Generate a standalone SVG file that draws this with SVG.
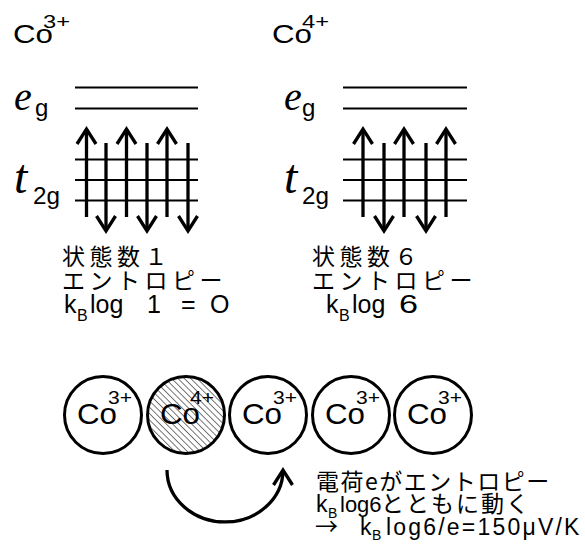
<svg xmlns="http://www.w3.org/2000/svg" width="585" height="544" viewBox="0 0 585 544">
<style>
.sans{font-family:"Liberation Sans",Arial,sans-serif;fill:#000}
.jp{font-family:"Noto Sans CJK JP","Noto Sans CJK SC",sans-serif;fill:#000}
.it{font-family:"Liberation Serif",serif;font-style:italic;fill:#000}
.lvl{stroke:#000;stroke-width:2;fill:none}
.spin{stroke:#000;stroke-width:3.3;fill:none}
.atom{stroke:#000;stroke-width:3}
.up{marker-end:url(#chev)}
</style>
<defs>
<marker id="chev" markerUnits="userSpaceOnUse" viewBox="-20 -20 40 40" markerWidth="40" markerHeight="40" refX="0" refY="0" orient="auto">
<path d="M-15,-9.5 L0,0 L-15,9.5" fill="none" stroke="#000" stroke-width="3.3"/>
</marker>
<pattern id="hatch" width="4.5" height="4.5" patternUnits="userSpaceOnUse" patternTransform="rotate(45)">
<line x1="0" y1="2.25" x2="4.5" y2="2.25" stroke="#555" stroke-width="0.8"/>
</pattern>
</defs>
<rect width="585" height="544" fill="#fff"/>

<g id="co3-diagram">
<text class="sans" font-size="25"><tspan x="13" y="43" textLength="40" lengthAdjust="spacingAndGlyphs">Co</tspan><tspan x="43" y="28" font-size="18" textLength="27" lengthAdjust="spacingAndGlyphs">3+</tspan></text>
<text class="it" x="14" y="110" font-size="40">e<tspan class="sans" x="35" y="116" font-size="24" font-style="normal">g</tspan></text>
<text class="it" x="14" y="193" font-size="48">t<tspan class="sans" x="33" y="204" font-size="23" font-style="normal" textLength="27" lengthAdjust="spacingAndGlyphs">2g</tspan></text>
<g class="lvl">
<line x1="75" y1="87.5" x2="198" y2="87.5"/>
<line x1="75" y1="108.5" x2="198" y2="108.5"/>
<line x1="75" y1="159.5" x2="198" y2="159.5"/>
<line x1="75" y1="180" x2="198" y2="180"/>
<line x1="75" y1="200.5" x2="198" y2="200.5"/>
</g>
<g class="spin">
<line class="up" x1="86.5" y1="217" x2="86.5" y2="129"/>
<line class="up" x1="126.5" y1="217" x2="126.5" y2="129"/>
<line class="up" x1="167" y1="217" x2="167" y2="129"/>
<line class="up" x1="106" y1="143" x2="106" y2="231"/>
<line class="up" x1="147" y1="143" x2="147" y2="231"/>
<line class="up" x1="188" y1="143" x2="188" y2="231"/>
</g>
<text class="jp" font-size="23"><tspan x="62" y="265" letter-spacing="4.5">状態数１</tspan><tspan x="62" y="289" letter-spacing="4.5">エントロピー</tspan><tspan class="sans" font-size="25" x="64" y="313">k</tspan><tspan class="sans" font-size="16" x="77" y="321">B</tspan><tspan class="sans" font-size="25" x="90" y="313">log</tspan><tspan class="sans" font-size="25" x="147" y="313">1</tspan><tspan class="sans" font-size="25" x="181" y="313">=</tspan><tspan class="sans" font-size="25" x="210" y="313">O</tspan></text>
</g>

<g id="co4-diagram">
<text class="sans" font-size="25"><tspan x="272" y="43" textLength="40" lengthAdjust="spacingAndGlyphs">Co</tspan><tspan x="302" y="28" font-size="18" textLength="27" lengthAdjust="spacingAndGlyphs">4+</tspan></text>
<text class="it" x="284" y="110" font-size="40">e<tspan class="sans" x="302" y="116" font-size="24" font-style="normal">g</tspan></text>
<text class="it" x="284" y="193" font-size="48">t<tspan class="sans" x="302" y="204" font-size="23" font-style="normal" textLength="27" lengthAdjust="spacingAndGlyphs">2g</tspan></text>
<g class="lvl">
<line x1="343" y1="87.5" x2="467" y2="87.5"/>
<line x1="343" y1="108.5" x2="467" y2="108.5"/>
<line x1="343" y1="159.5" x2="467" y2="159.5"/>
<line x1="343" y1="180" x2="467" y2="180"/>
<line x1="343" y1="200.5" x2="467" y2="200.5"/>
</g>
<g class="spin">
<line class="up" x1="363" y1="217" x2="363" y2="129"/>
<line class="up" x1="404" y1="217" x2="404" y2="129"/>
<line class="up" x1="446" y1="217" x2="446" y2="129"/>
<line class="up" x1="384" y1="143" x2="384" y2="231"/>
<line class="up" x1="426" y1="143" x2="426" y2="231"/>
</g>
<text class="jp" font-size="23"><tspan x="312" y="265" letter-spacing="4.5">状態数６</tspan><tspan x="312" y="289" letter-spacing="4.5">エントロピー</tspan><tspan class="sans" font-size="25" x="326" y="313">k</tspan><tspan class="sans" font-size="16" x="339" y="321">B</tspan><tspan class="sans" font-size="25" x="352" y="313">log</tspan><tspan class="sans" font-size="25" x="399" y="313" textLength="19" lengthAdjust="spacingAndGlyphs">6</tspan></text>
</g>

<g id="atom1">
<circle class="atom" cx="103" cy="415" r="38.5" fill="#fff"/>
<text class="sans" font-size="29"><tspan x="77" y="424" textLength="40" lengthAdjust="spacingAndGlyphs">Co</tspan><tspan x="108" y="404" font-size="19" textLength="24" lengthAdjust="spacingAndGlyphs">3+</tspan></text>
</g>
<g id="atom2">
<circle class="atom" cx="186" cy="415" r="38.5" fill="url(#hatch)"/>
<text class="sans" font-size="29"><tspan x="160" y="424" textLength="40" lengthAdjust="spacingAndGlyphs">Co</tspan><tspan x="190" y="404" font-size="19" textLength="24" lengthAdjust="spacingAndGlyphs">4+</tspan></text>
</g>
<g id="atom3">
<circle class="atom" cx="268" cy="415" r="38.5" fill="#fff"/>
<text class="sans" font-size="29"><tspan x="242" y="424" textLength="40" lengthAdjust="spacingAndGlyphs">Co</tspan><tspan x="273" y="404" font-size="19" textLength="24" lengthAdjust="spacingAndGlyphs">3+</tspan></text>
</g>
<g id="atom4">
<circle class="atom" cx="351" cy="415" r="38.5" fill="#fff"/>
<text class="sans" font-size="29"><tspan x="325" y="424" textLength="40" lengthAdjust="spacingAndGlyphs">Co</tspan><tspan x="356" y="404" font-size="19" textLength="24" lengthAdjust="spacingAndGlyphs">3+</tspan></text>
</g>
<g id="atom5">
<circle class="atom" cx="433" cy="415" r="38.5" fill="#fff"/>
<text class="sans" font-size="29"><tspan x="407" y="424" textLength="40" lengthAdjust="spacingAndGlyphs">Co</tspan><tspan x="438" y="404" font-size="19" textLength="24" lengthAdjust="spacingAndGlyphs">3+</tspan></text>
</g>

<g id="connectors">
<path class="spin up" d="M167,470 A58,52 0 0 0 283,470"/>
</g>

<g id="hop-label">
<text class="jp" font-size="23"><tspan x="316" y="490" letter-spacing="1.5">電荷eがエントロピー</tspan><tspan class="sans" x="316" y="512">k</tspan><tspan class="sans" font-size="14" x="328" y="518">B</tspan><tspan class="sans" font-size="22" x="340" y="512">log6</tspan><tspan x="381" y="512" letter-spacing="2">とともに動く</tspan><tspan x="315" y="535">→</tspan><tspan class="sans" x="360" y="535">k</tspan><tspan class="sans" font-size="14" x="372" y="540">B</tspan><tspan class="sans" x="386" y="535" letter-spacing="2.2">log6/e=150μV/K</tspan></text>
</g>
</svg>
